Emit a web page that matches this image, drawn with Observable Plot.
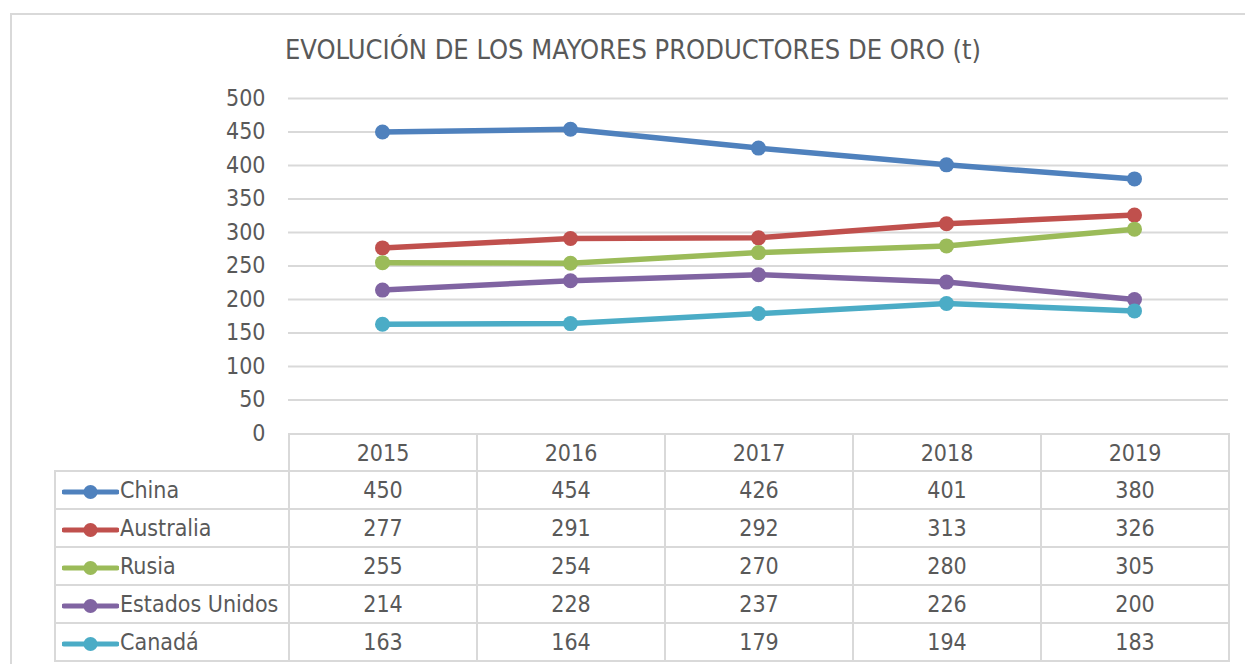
<!DOCTYPE html>
<html><head><meta charset="utf-8">
<script src="https://cdn.jsdelivr.net/npm/d3@7"></script>
<script src="https://cdn.jsdelivr.net/npm/@observablehq/plot@0.6"></script>
<style>
html,body{margin:0;padding:0;overflow:hidden;background:#fff}
body{font-family:"DejaVu Sans Condensed","DejaVu Sans",sans-serif;font-stretch:condensed;color:#595959;width:1245px;height:664px;position:relative}
#frame{position:absolute;left:10px;top:13px;width:1260px;height:680px;border:2px solid #d9d9d9;box-sizing:border-box}
#title{position:absolute;left:0;width:1266px;top:34px;text-align:center;font-size:27px;white-space:nowrap}
#chart{position:absolute;left:0;top:0}
#tbl{position:absolute;left:54px;top:433px;border-collapse:collapse;table-layout:fixed;font-size:23px}
#tbl td{border:2px solid #d9d9d9;text-align:center;padding:0;color:#595959;white-space:nowrap}
#tbl tr.h td{height:35px}
#tbl tr.r td{height:36px}
#tbl td.lg{text-align:left;padding-left:6px}
#tbl td.blank{border:none}
#tbl svg{vertical-align:middle;margin-right:1px}
</style></head>
<body>
<div id="frame"></div>
<div id="title">EVOLUCIÓN DE LOS MAYORES PRODUCTORES DE ORO (t)</div>
<div id="chart"></div>
<table id="tbl"></table>
<script>
const years = ["2015", "2016", "2017", "2018", "2019"];
const seriesNames = ["China", "Australia", "Rusia", "Estados Unidos", "Canadá"];
const china = [450, 454, 426, 401, 380];
const australia = [277, 291, 292, 313, 326];
const rusia = [255, 254, 270, 280, 305];
const estadosUnidos = [214, 228, 237, 226, 200];
const canada = [163, 164, 179, 194, 183];
const colors = ["#4F81BD", "#C0504D", "#9BBB59", "#8064A2", "#4BACC6"];
const yTicks = [0, 50, 100, 150, 200, 250, 300, 350, 400, 450, 500];

const seriesValues = [china, australia, rusia, estadosUnidos, canada];
const data = [];
seriesNames.forEach((s, i) => years.forEach((y, j) => data.push({series: s, year: y, value: seriesValues[i][j]})));

const chart = Plot.plot({
  width: 1245,
  height: 450,
  marginLeft: 288,
  marginRight: 17,
  marginTop: 98,
  marginBottom: 17,
  style: {fontFamily: "'DejaVu Sans Condensed', 'DejaVu Sans'", fontStretch: "condensed", fontSize: "23px", color: "#595959", background: "transparent", overflow: "visible"},
  x: {type: "point", domain: years, padding: 0.5, axis: null},
  y: {domain: [0, 500]},
  color: {domain: seriesNames, range: colors},
  marks: [
    Plot.gridY(yTicks.filter(d => d > 0), {stroke: "#d9d9d9", strokeOpacity: 1, strokeWidth: 2}),
    Plot.axisY(yTicks, {tickSize: 0, tickPadding: 23, fontSize: 23, fill: "#595959", label: null}),
    Plot.line(data, {x: "year", y: "value", z: "series", stroke: "series", strokeWidth: 5.5}),
    Plot.dot(data, {x: "year", y: "value", fill: "series", r: 7.5, stroke: "none"})
  ]
});
document.getElementById("chart").appendChild(chart);

// data table
const tbl = document.getElementById("tbl");
const colgroup = document.createElement("colgroup");
[234, 188, 188, 188, 188, 188].forEach(w => {
  const c = document.createElement("col"); c.style.width = w + "px"; colgroup.appendChild(c);
});
tbl.appendChild(colgroup);
const hr = document.createElement("tr"); hr.className = "h";
const blank = document.createElement("td"); blank.className = "blank"; hr.appendChild(blank);
years.forEach(y => { const td = document.createElement("td"); td.textContent = y; hr.appendChild(td); });
tbl.appendChild(hr);
seriesNames.forEach((s, i) => {
  const tr = document.createElement("tr"); tr.className = "r";
  const lg = document.createElement("td"); lg.className = "lg";
  const ns = "http://www.w3.org/2000/svg";
  const svg = document.createElementNS(ns, "svg");
  svg.setAttribute("width", 57); svg.setAttribute("height", 16);
  const ln = document.createElementNS(ns, "line");
  ln.setAttribute("x1", 2); ln.setAttribute("x2", 55); ln.setAttribute("y1", 8); ln.setAttribute("y2", 8);
  ln.setAttribute("stroke", colors[i]); ln.setAttribute("stroke-width", 5); ln.setAttribute("stroke-linecap", "round");
  const ci = document.createElementNS(ns, "circle");
  ci.setAttribute("cx", 28.5); ci.setAttribute("cy", 8); ci.setAttribute("r", 7); ci.setAttribute("fill", colors[i]);
  svg.appendChild(ln); svg.appendChild(ci);
  lg.appendChild(svg);
  lg.appendChild(document.createTextNode(s));
  tr.appendChild(lg);
  seriesValues[i].forEach(v => { const td = document.createElement("td"); td.textContent = v; tr.appendChild(td); });
  tbl.appendChild(tr);
});
</script>
</body></html>
